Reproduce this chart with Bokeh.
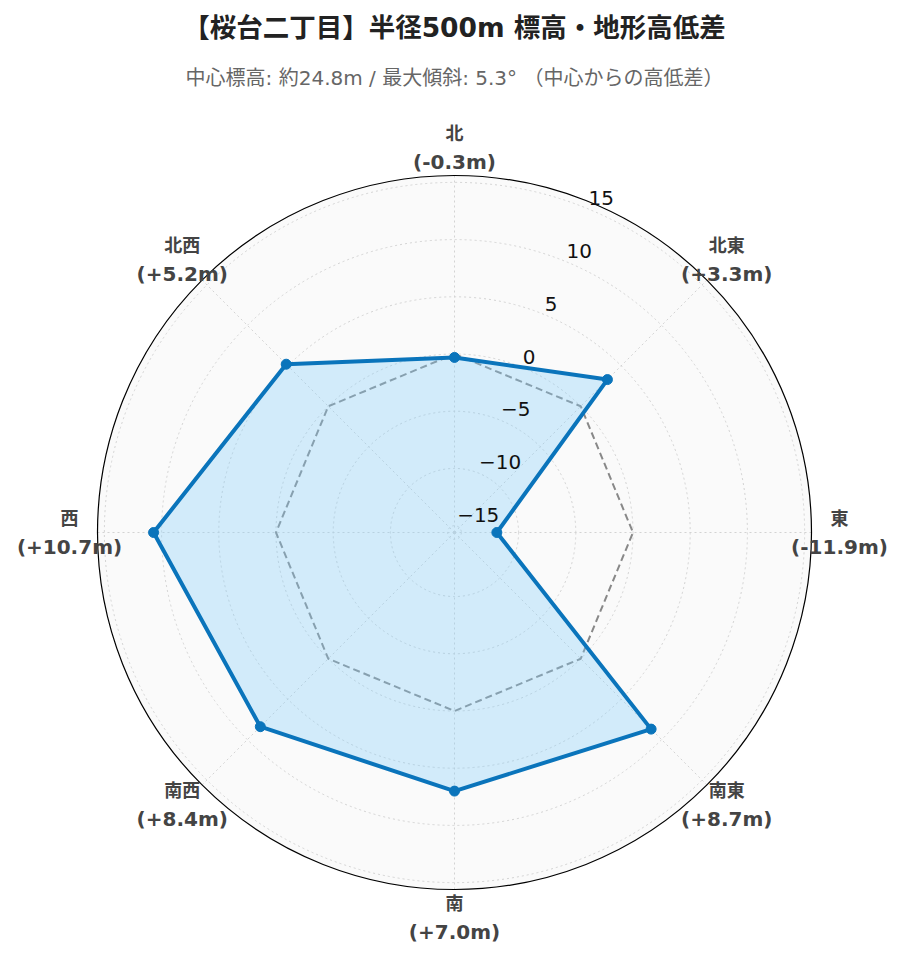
import numpy as np
from bokeh.plotting import figure
from bokeh.models import Range1d
from bokeh.core.properties import value
from bokeh.embed import file_html
from bokeh.resources import INLINE

# ---- data ----
directions = ["北", "北東", "東", "南東", "南", "南西", "西", "北西"]
diffs = [-0.3, 3.3, -11.9, 8.7, 7.0, 8.4, 10.7, 5.2]
tick_values = [-15, -10, -5, 0, 5, 10, 15]
tick_labels = ["−15", "−10", "−5", "0", "5", "10", "15"]
title_text = "【桜台二丁目】半径500m 標高・地形高低差"
subtitle_text = "中心標高: 約24.8m / 最大傾斜: 5.3° （中心からの高低差）"

# ---- geometry ----
W, H = 887, 946
CX, CY = 454, 532          # centre in canvas pixels (from top-left)
R = 357                    # outer radius px
rmin, rmax = -15.6, 15.6
scale = R / (rmax - rmin)

def rad(v):
    return (np.asarray(v, dtype=float) - rmin) * scale

angles = np.deg2rad(np.arange(8) * 45.0)   # clockwise from north

def pol(r, th):
    return r * np.sin(th), r * np.cos(th)

p = figure(width=W, height=H, output_backend="svg", toolbar_location=None,
           x_range=Range1d(-CX, W - CX), y_range=Range1d(-(H - CY), CY),
           min_border=0)
p.axis.visible = False
p.grid.visible = False
p.outline_line_color = None
p.background_fill_color = "white"

FONT_MIX = "DejaVu Sans, Noto Sans CJK JP"
FONT_CJK = "Noto Sans CJK JP"

# polar background
p.circle(x=[0], y=[0], radius=R, fill_color="#fafafa", line_color=None)

# grid circles
for tv in tick_values:
    p.circle(x=[0], y=[0], radius=float(rad(tv)), fill_color=None,
             line_color="#d3d3d3", line_width=1, line_dash="2 3")
# angular grid lines
for th in angles:
    x1, y1 = pol(R, th)
    p.line([0, x1], [0, y1], line_color="#d3d3d3", line_width=1, line_dash="2 3")

# outer circle
p.circle(x=[0], y=[0], radius=R, fill_color=None, line_color="black", line_width=1.2)

# zero reference (dashed)
zr = rad(np.zeros(len(directions)))
zx, zy = pol(zr, angles)
p.line(list(zx) + [zx[0]], list(zy) + [zy[0]], line_color="#888888",
       line_width=2, line_dash="7 4")

# data polygon
dr = rad(diffs)
dx, dy = pol(dr, angles)
p.patch(list(dx), list(dy), fill_color="#87cefa", fill_alpha=0.35, line_color=None)
p.line(list(dx) + [dx[0]], list(dy) + [dy[0]], line_color="#0a74bb", line_width=4,
       line_join="round")
p.scatter(list(dx), list(dy), size=10, fill_color="#0a74bb", line_color="#0a74bb")

# radial tick labels (axis at 22.5 deg clockwise from north)
ax_th = np.deg2rad(22.5)
tx, ty = pol(rad(tick_values), ax_th)
p.text(list(tx), list(ty), text=tick_labels, text_align="left",
       text_baseline="middle", y_offset=-11, text_font=value("DejaVu Sans"),
       text_font_size="20px", text_color="#111111")

# direction labels
lx, ly = pol(np.full(len(directions), 385.0), angles)
p.text(list(lx), list(ly), text=directions, text_align="center",
       text_baseline="middle", y_offset=-16, text_font=value(FONT_CJK),
       text_font_size="18px", text_font_style="bold", text_color="#444444")
vals = ["(%+.1fm)" % v for v in diffs]
p.text(list(lx), list(ly), text=vals, text_align="center",
       text_baseline="middle", y_offset=14, text_font=value("DejaVu Sans"),
       text_font_size="20px", text_font_style="bold", text_color="#444444")

# titles
p.text([0], [CY - 27], text=[title_text], text_align="center", text_baseline="middle",
       text_font=value(FONT_MIX), text_font_size="26.5px", text_font_style="bold",
       text_color="#222222")
p.text([0], [CY - 77], text=[subtitle_text], text_align="center", text_baseline="middle",
       text_font=value(FONT_MIX), text_font_size="20px", text_color="#666666")

open("out.html", "w").write(file_html(p, INLINE))
